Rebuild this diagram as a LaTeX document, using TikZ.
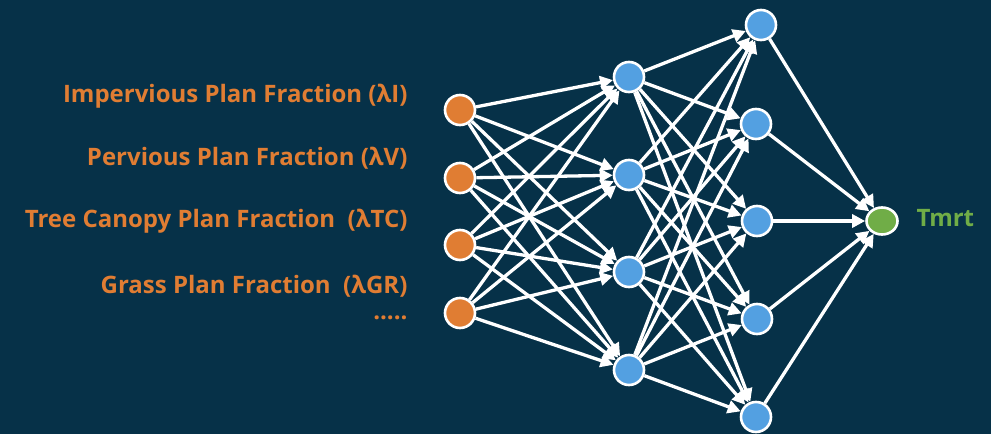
\documentclass[tikz,border=0pt]{standalone}
\usepackage{fontspec}
\setmainfont{Open Sans}
\usetikzlibrary{arrows.meta,shapes.geometric}
\definecolor{bgnavy}{RGB}{6,49,72}
\definecolor{inorange}{RGB}{224,125,51}
\definecolor{hidblue}{RGB}{83,160,225}
\definecolor{outgreen}{RGB}{112,173,71}
\tikzset{
  neuron/.style={circle, draw=white, line width=2.6pt, minimum size=30pt, inner sep=0pt},
  inneuron/.style={neuron, fill=inorange},
  hidneuron/.style={neuron, fill=hidblue},
  outneuron/.style={ellipse, draw=white, line width=2.6pt, fill=outgreen, minimum width=31pt, minimum height=27pt, inner sep=0pt},
  synapse/.style={draw=white, line width=3.3pt, -{Triangle[length=13pt,width=13pt]}},
  labelfont/.style={font=\bfseries\fontsize{24}{28}\selectfont},
  featlabel/.style={labelfont, anchor=east, text=inorange},
}
\begin{document}
\begin{tikzpicture}[x=1pt,y=-1pt]
  \fill[bgnavy] (0,0) rectangle (991,434);
  \useasboundingbox (0,0) rectangle (991,434);

  % input layer
  \foreach \i/\y in {1/110,2/178,3/245,4/313}
    \node[inneuron] (in\i) at (460,\y) {};
  % first hidden layer
  \foreach \i/\y in {1/77,2/175,3/272,4/370}
    \node[hidneuron] (ha\i) at (629,\y) {};
  % second hidden layer
  \foreach \i/\x/\y in {1/761/25,2/756/124,3/757/221,4/757/319,5/756/417}
    \node[hidneuron] (hb\i) at (\x,\y) {};
  % output
  \node[outneuron] (out) at (882,221) {};

  % connections
  \foreach \i in {1,...,4}
    \foreach \j in {1,...,4}
      \draw[synapse] (in\i) -- (ha\j);
  \foreach \i in {1,...,4}
    \foreach \j in {1,...,5}
      \draw[synapse] (ha\i) -- (hb\j);
  \foreach \j in {1,...,5}
    \draw[synapse] (hb\j) -- (out);

  % labels
  \node[featlabel] (l1) at (411,96) {Impervious Plan Fraction (λI)};
  \node[featlabel] (l2) at (411,158) {Pervious Plan Fraction (λV)};
  \node[featlabel] (l3) at (411,221) {Tree Canopy Plan Fraction\ \ (λTC)};
  \node[featlabel] (l4) at (411,286) {Grass Plan Fraction\ \ (λGR)};
  \node[featlabel] (l5) at (411,318) {.....};
  \node[labelfont, anchor=west, text=outgreen] (tm) at (913,218) {Tmrt};
\end{tikzpicture}
\end{document}
